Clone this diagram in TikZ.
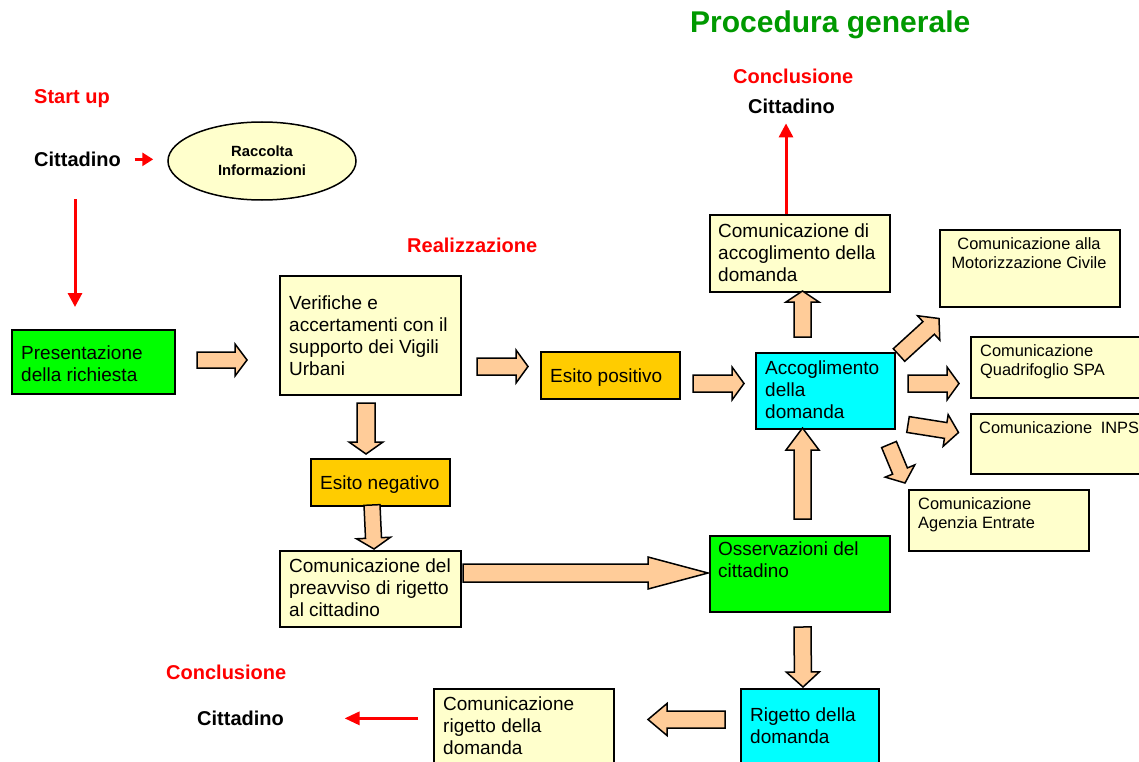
\documentclass[tikz,border=0pt]{standalone}
\usepackage{fontspec}
\setmainfont{Liberation Sans}
\usetikzlibrary{calc,shapes.geometric,arrows.meta}

\definecolor{boxyellow}{RGB}{255,255,204}
\definecolor{boxgreen}{RGB}{0,255,0}
\definecolor{boxcyan}{RGB}{0,255,255}
\definecolor{boxgold}{RGB}{255,204,0}
\definecolor{arrowfill}{RGB}{255,204,153}
\definecolor{titlegreen}{RGB}{0,153,0}

% block arrow: tail, tip, shaft half-width, head half-width, head length
\newcommand\fatarrow[5]{%
  \coordinate (fa-b) at ($(#2)!#5pt!(#1)$);
  \draw[fat] ($(#1)!#3pt!90:(#2)$) -- ($(fa-b)!#3pt!90:(#2)$) -- ($(fa-b)!#4pt!90:(#2)$)
    -- (#2) -- ($(fa-b)!#4pt!-90:(#2)$) -- ($(fa-b)!#3pt!-90:(#2)$) -- ($(#1)!#3pt!-90:(#2)$) -- cycle;
}

\begin{document}
\begin{tikzpicture}[x=1pt,y=-1pt,
  box/.style={draw=black, line width=1.6pt, rectangle, inner sep=0pt, anchor=north west},
  % multi-line texts are placed by the baseline of their last line
  txt/.style={inner sep=0pt, anchor=base west, align=left, font=\fontsize{19}{22}\selectfont},
  small/.style={inner sep=0pt, anchor=base west, align=left, font=\fontsize{16.4}{18.8}\selectfont},
  lbl/.style={inner sep=0pt, anchor=base west, font=\bfseries\fontsize{20}{24}\selectfont},
  fat/.style={draw=black, line width=1.5pt, fill=arrowfill, line join=miter},
  redarrow/.style={draw=red, line width=3pt, -{Triangle[length=14pt,width=14pt]}},
]
\useasboundingbox (0,0) rectangle (1139,762);
\clip (0,0) rectangle (1139,762);

% title and stage labels
\node[inner sep=0pt, anchor=base west, font=\bfseries\fontsize{30}{36}\selectfont, text=titlegreen] (title) at (690,33) {Procedura generale};
\node[lbl, text=red] (start) at (34,103.5) {Start up};
\node[lbl] (cit1) at (34,166.5) {Cittadino};
\node[lbl, text=red] (real) at (407,252.5) {Realizzazione};
\node[lbl, text=red] (concl1) at (733,83.5) {Conclusione};
\node[lbl] (cit2) at (748,113.5) {Cittadino};
\node[lbl, text=red] (concl2) at (166,679.5) {Conclusione};
\node[lbl] (cit3) at (197,725.5) {Cittadino};

% information gathering
\node[ellipse, draw=black, line width=1.5pt, fill=boxyellow, minimum width=188, minimum height=78,
  inner sep=0pt, align=center, font=\bfseries\fontsize{14.8}{19}\selectfont] (racc) at (262,161) {Raccolta\\Informazioni};

% process boxes
\node[box, fill=boxgreen, minimum width=163, minimum height=64] (pres) at (11,329) {};
\node[box, fill=boxyellow, minimum width=181, minimum height=119] (verif) at (279,275) {};
\node[box, fill=boxgold, minimum width=139, minimum height=47] (espos) at (540,351) {};
\node[box, fill=boxgold, minimum width=139, minimum height=47] (esneg) at (310,458) {};
\node[box, fill=boxyellow, minimum width=181, minimum height=76] (preav) at (279,550) {};
\node[box, fill=boxgreen, minimum width=180, minimum height=76] (oss) at (709,535) {};
\node[box, fill=boxcyan, minimum width=139, minimum height=76] (accog) at (755,352) {};
\node[box, fill=boxyellow, minimum width=180, minimum height=77] (comacc) at (709,214) {};
\node[box, fill=boxyellow, minimum width=180, minimum height=77] (motor) at (939,229) {};
\node[box, fill=boxyellow, minimum width=190, minimum height=61] (quadri) at (970,336) {};
\node[box, fill=boxyellow, minimum width=190, minimum height=60] (inps) at (970,413) {};
\node[box, fill=boxyellow, minimum width=180, minimum height=61] (agenz) at (908,489) {};
\node[box, fill=boxcyan, minimum width=138, minimum height=95] (rig) at (740,688) {};
\node[box, fill=boxyellow, minimum width=180, minimum height=95] (rigcom) at (433,688) {};

% box texts
\node[txt] (pres-t) at (21,381) {Presentazione\\della richiesta};
\node[txt] (verif-t) at (289,375.5) {Verifiche e\\accertamenti con il\\supporto dei Vigili\\Urbani};
\node[txt] (espos-t) at (550,382) {Esito positivo};
\node[txt] (esneg-t) at (320,489.5) {Esito negativo};
\node[txt] (preav-t) at (289,616.5) {Comunicazione del\\preavviso di rigetto\\al cittadino};
\node[txt] (oss-t) at (718,577.5) {Osservazioni del\\cittadino};
\node[txt] (accog-t) at (765,418.5) {Accoglimento\\della\\domanda};
\node[txt] (comacc-t) at (718,281.5) {Comunicazione di\\accoglimento della\\domanda};
\node[small, anchor=base, align=center] (motor-t) at (1029,268.3) {Comunicazione alla\\Motorizzazione Civile};
\node[small] (quadri-t) at (980,375.5) {Comunicazione\\Quadrifoglio SPA};
\node[small] (inps-t) at (979,433.5) {Comunicazione\hspace{4pt} INPS};
\node[small] (agenz-t) at (918,528.3) {Comunicazione\\Agenzia Entrate};
\node[txt] (rig-t) at (750,743.5) {Rigetto della\\domanda};
\node[txt] (rigcom-t) at (443,754.5) {Comunicazione\\rigetto della\\domanda};

% red flow arrows
\coordinate (dn) at (75,0);
\coordinate (up) at (786,0);
\draw[redarrow, -{Triangle[length=11pt,width=13pt]}, shorten <=13.5pt, shorten >=14pt] (cit1.east) -- (cit1.east -| racc.west);
\draw[redarrow, shorten <=32.5pt, shorten >=22pt] (cit1.south -| dn) -- (pres.north -| dn);
\draw[redarrow, shorten >=9.5pt] (comacc.north -| up) -- (cit2.south -| up);
\draw[redarrow, -{Triangle[length=15pt,width=13pt]}, shorten <=15pt, shorten >=60.5pt] (cit3.east -| rigcom.west) -- (cit3.east);

% block arrow ends
\coordinate (a1s) at (197,360);   \coordinate (a1e) at (247,360);
\coordinate (a2s) at (477,366.5); \coordinate (a2e) at (528,366.5);
\coordinate (a3s) at (693,383.5); \coordinate (a3e) at (744,383.5);
\coordinate (a4s) at (366,403);   \coordinate (a4e) at (366,454);
\coordinate (a5s) at (372,505);   \coordinate (a5e) at (374,549);
\coordinate (a6s) at (463,573);   \coordinate (a6e) at (708,573);
\coordinate (a7s) at (802.5,519); \coordinate (a7e) at (802.5,428);
\coordinate (a8s) at (802.5,337); \coordinate (a8e) at (802.5,291);
\coordinate (a9s) at (899,355);   \coordinate (a9e) at (939,318.5);
\coordinate (a10s) at (908,383.5); \coordinate (a10e) at (959,383.5);
\coordinate (a11s) at (908,424.5); \coordinate (a11e) at (958.5,432.5);
\coordinate (a12s) at (889,444.5); \coordinate (a12e) at (905,483);
\coordinate (a13s) at (802.5,627); \coordinate (a13e) at (803,687);
\coordinate (a14s) at (725,719.5); \coordinate (a14e) at (648,719.5);

% block arrows
\fatarrow{a1s}{a1e}{8}{16}{12}
\fatarrow{a2s}{a2e}{8.5}{16.5}{12}
\fatarrow{a3s}{a3e}{8.5}{16.5}{12}
\fatarrow{a4s}{a4e}{9}{17}{12}
\fatarrow{a5s}{a5e}{8}{17}{11}
\fatarrow{a6s}{a6e}{9}{16}{60}
\fatarrow{a7s}{a7e}{8.5}{16.5}{22}
\fatarrow{a8s}{a8e}{8.5}{16.5}{11}
\fatarrow{a9s}{a9e}{8.5}{16.5}{14}
\fatarrow{a10s}{a10e}{8.5}{16.5}{12}
\fatarrow{a11s}{a11e}{8}{16}{13}
\fatarrow{a12s}{a12e}{8}{16}{13}
\fatarrow{a13s}{a13e}{8.5}{16.5}{15}
\fatarrow{a14s}{a14e}{8.5}{16}{19}
\end{tikzpicture}
\end{document}
